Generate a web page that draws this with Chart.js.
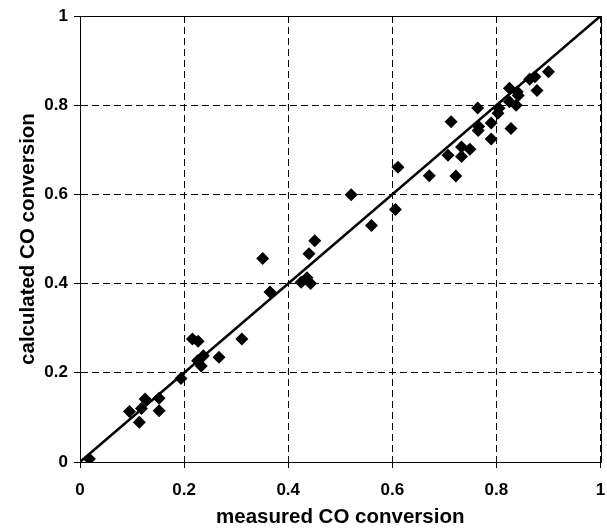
<!DOCTYPE html>
<html>
<head>
<meta charset="utf-8">
<script src="https://cdn.jsdelivr.net/npm/chart.js@4/dist/chart.umd.min.js"></script>
<style>
  html, body { margin: 0; padding: 0; background: #ffffff; }
  #wrap { width: 607px; height: 528px; }
</style>
</head>
<body>
<div id="wrap"><canvas id="c" width="607" height="528"></canvas></div>
<script>
// measured CO conversion (x) vs calculated CO conversion (y)
const measured = [
  0.018, 0.095, 0.114, 0.118, 0.125, 0.152, 0.152, 0.194, 0.216, 0.227,
  0.226, 0.237, 0.233, 0.267, 0.311, 0.351, 0.365, 0.425, 0.436, 0.443,
  0.440, 0.451,
  0.521, 0.560, 0.606, 0.611, 0.671, 0.707, 0.713, 0.722, 0.733, 0.733,
  0.749, 0.764, 0.766, 0.765, 0.790, 0.790, 0.805, 0.803, 0.828, 0.825,
  0.825, 0.838, 0.840, 0.842, 0.864, 0.874, 0.878, 0.900
];
const calculated = [
  0.007, 0.113, 0.089, 0.120, 0.141, 0.143, 0.115, 0.187, 0.276, 0.271,
  0.227, 0.238, 0.215, 0.235, 0.276, 0.456, 0.381, 0.403, 0.413, 0.400,
  0.467, 0.496,
  0.599, 0.530, 0.566, 0.661, 0.642, 0.688, 0.763, 0.641, 0.706, 0.685,
  0.701, 0.794, 0.752, 0.743, 0.760, 0.724, 0.793, 0.782, 0.748, 0.838,
  0.808, 0.800, 0.830, 0.822, 0.858, 0.864, 0.833, 0.875
];
const parityX = [0, 1];
const parityY = [0, 1];
const xTickLabels = ['0', '0.2', '0.4', '0.6', '0.8', '1'];
const yTickLabels = ['0', '0.2', '0.4', '0.6', '0.8', '1'];
const xTitle = 'measured CO conversion';
const yTitle = 'calculated CO conversion';

const points = measured.map((v, i) => ({ x: v, y: calculated[i] }));
const parity = parityX.map((v, i) => ({ x: v, y: parityY[i] }));

const frame = {
  id: 'frame',
  afterDatasetsDraw(chart) {
    const a = chart.chartArea, ctx = chart.ctx;
    ctx.save();
    ctx.strokeStyle = '#000';
    ctx.lineWidth = 1;
    ctx.setLineDash([]);
    ctx.strokeRect(Math.round(a.left) + 0.5, Math.round(a.top) + 0.5,
                   Math.round(a.right - a.left), Math.round(a.bottom - a.top));
    ctx.restore();
  }
};

const tickFont = { family: '"Liberation Sans", Arial, sans-serif', size: 17, weight: 'bold' };
const titleFont = { family: '"Liberation Sans", Arial, sans-serif', size: 20.5, weight: 'bold', lineHeight: 1 };

new Chart(document.getElementById('c'), {
  data: {
    datasets: [
      {
        type: 'scatter',
        data: points,
        pointStyle: 'rectRot',
        pointRadius: 6.5,
        pointHoverRadius: 6.5,
        backgroundColor: '#000',
        borderColor: '#000',
        borderWidth: 0
      },
      {
        type: 'line',
        data: parity,
        borderColor: '#000',
        borderWidth: 2.5,
        pointRadius: 0,
        fill: false
      }
    ]
  },
  options: {
    responsive: false,
    animation: false,
    devicePixelRatio: 1,
    layout: { padding: { top: 16, right: 6, left: 0, bottom: 0 } },
    plugins: { legend: { display: false }, tooltip: { enabled: false } },
    scales: {
      x: {
        type: 'linear',
        min: 0, max: 1,
        afterFit(s) { s.height = 66; s.paddingRight = 0; s.paddingLeft = 0; },
        afterBuildTicks(s) { s.ticks = xTickLabels.map(t => ({ value: parseFloat(t) })); },
        ticks: {
          callback: (v, i) => xTickLabels[i],
          font: tickFont, color: '#000', padding: 12, maxRotation: 0
        },
        grid: {
          color: '#000', lineWidth: 1,
          tickLength: 6, tickColor: '#000', tickBorderDash: []
        },
        border: { display: true, color: '#000', width: 1, dash: [7, 4] },
        title: { display: true, text: xTitle, font: titleFont, color: '#000', padding: { top: 0, bottom: 0 } }
      },
      y: {
        type: 'linear',
        min: 0, max: 1,
        afterFit(s) { s.width = 80; s.paddingTop = 0; s.paddingBottom = 0; },
        afterBuildTicks(s) { s.ticks = yTickLabels.map(t => ({ value: parseFloat(t) })); },
        ticks: {
          callback: (v, i) => yTickLabels[i],
          font: tickFont, color: '#000', padding: 6
        },
        grid: {
          color: '#000', lineWidth: 1,
          tickLength: 6, tickColor: '#000', tickBorderDash: []
        },
        border: { display: true, color: '#000', width: 1, dash: [7, 4] },
        title: { display: true, text: yTitle, font: titleFont, color: '#000', padding: { top: 18, bottom: 0 } }
      }
    }
  },
  plugins: [frame]
});
</script>
</body>
</html>
